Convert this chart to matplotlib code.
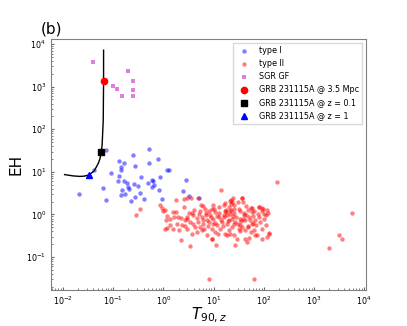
import matplotlib
matplotlib.use("Agg")
import matplotlib.pyplot as plt
import numpy as np

# type I (short) GRBs
t1_x = [0.071, 0.507, 0.246, 0.776, 0.131, 0.163, 0.521, 0.273, 0.144, 0.14, 1.16, 1.31,
        0.092, 0.131, 0.356, 0.863, 0.124, 0.165, 0.184, 0.261, 0.31, 0.497, 0.581, 0.608,
        0.655, 0.195, 0.202, 2.81, 0.061, 0.147, 0.581, 0.80, 0.34, 0.0209, 0.144, 0.173,
        0.27, 0.414, 0.224, 0.071, 0.92, 2.42, 3.27, 0.041, 5.0]
t1_y = [33.3, 35.1, 25.4, 19.7, 17.9, 15.8, 16.1, 13.7, 12.8, 11.0, 11.0, 11.0,
        9.6, 7.8, 7.55, 7.7, 6.08, 5.97, 5.57, 5.27, 4.73, 5.36, 6.41, 5.97,
        5.0, 4.49, 4.03, 6.41, 4.09, 3.81, 4.32, 3.67, 3.24, 3.0, 2.8, 3.07,
        2.55, 2.34, 2.06, 2.22, 2.34, 3.61, 2.75, 11.3, 2.42]

# type II (long) GRBs
t2_x = [1.75, 2.53, 0.85, 0.95, 1.06, 0.96, 1.80, 1.60, 1.19, 1.12, 1.98, 2.23, 2.9, 3.18,
        2.6, 3.66, 3.94, 5.5, 6.2, 6.7, 5.4, 4.6, 5.8, 6.9, 8.5, 9.1, 9.9, 3.38, 2.69, 2.31,
        1.83, 1.57, 1.35, 1.07, 1.16, 2.07, 2.9, 3.94, 4.95, 6.2, 7.3, 7.85, 9.1, 5.8, 4.6,
        3.66, 7.3, 9.1, 2.23, 3.38, 2.69, 4.25, 5.4, 6.5, 8.2, 9.9, 1.35, 1.52, 4.95, 2.9, 3.5,
        21.5, 23.3, 22.5, 30.2, 36.9, 38.5, 31.6, 25.2, 21.5, 17.1, 15.8, 12.6, 10.8, 10.0,
        9.7, 11.7, 13.6, 10.5, 9.3, 11.2, 17.1, 18.5, 21.5, 25.2, 29.3, 27.2, 23.3, 20.0,
        27.2, 34.1, 39.8, 43, 50, 58.5, 57, 79.4, 95, 99, 79.4, 68, 58.5, 49, 43, 36.9, 31.6,
        63, 73.5, 92.5, 108, 126, 117, 92.5, 68, 50, 43, 46, 34, 14.7, 18.5, 23.3, 15.8, 20,
        18.5, 49, 21.9, 24.7, 36.4, 80.5, 93.7, 55, 120, 124, 13.9, 181.6,
        11.5, 12.8, 14, 16, 17.5, 19, 21, 24, 26, 28, 30, 33, 35, 40, 45, 48, 52, 60, 65, 70,
        75, 85, 90, 100, 110, 115, 8, 7, 6, 4, 3, 5, 13, 16.5, 26, 44, 33, 20, 12, 55, 8.7,
        10.5, 15, 25, 38, 62, 18, 22,
        0.286, 0.34, 5700, 3180, 3650, 1946, 8.1, 63.1]
t2_y = [2.13, 2.34, 1.69, 1.41, 1.24, 1.18, 1.11, 0.86, 0.90, 0.75, 0.85, 0.84, 0.86, 1.07,
        1.49, 1.09, 0.95, 1.69, 1.57, 1.36, 1.18, 0.84, 0.86, 0.95, 0.98, 1.31, 1.63, 0.66,
        0.72, 0.57, 0.60, 0.46, 0.55, 0.46, 0.48, 0.42, 0.46, 0.60, 0.66, 0.60, 0.75, 0.53,
        0.46, 0.42, 0.38, 0.35, 0.32, 0.27, 0.244, 0.18, 0.52, 0.50, 0.50, 0.46, 0.66, 0.60,
        0.76, 1.11, 2.47, 2.42, 2.42,
        2.1, 1.95, 1.8, 1.95, 2.4, 1.95, 1.36, 1.33, 1.17, 1.22, 0.95, 0.87, 1.13, 1.36,
        0.79, 0.55, 0.46, 0.38, 0.27, 0.19, 0.35, 0.32, 0.35, 0.32, 0.27, 0.19, 0.79, 0.72,
        0.66, 0.79, 0.95, 0.72, 0.87, 1.13, 1.4, 1.5, 1.36, 1.04, 0.87, 0.72, 0.6, 0.53, 0.42,
        0.5, 0.46, 0.42, 0.33, 0.46, 0.57, 0.35, 0.3, 0.27, 0.32, 0.28, 0.27, 0.22, 0.55,
        0.66, 0.6, 0.5, 1.63, 1.5, 0.97, 0.5, 2.22, 2.47, 2.42, 1.49, 1.41, 1.41, 1.1, 0.36,
        3.81, 5.66,
        0.9, 1.05, 0.75, 0.85, 1.3, 0.7, 1.0, 0.9, 1.1, 0.85, 0.6, 1.2, 0.7, 1.1, 0.95, 1.25,
        0.75, 0.9, 1.2, 0.55, 1.0, 0.65, 1.2, 0.8, 0.95, 1.3, 1.2, 1.05, 0.75, 1.3, 0.8, 1.0,
        1.5, 1.9, 1.7, 1.6, 0.4, 0.42, 0.35, 0.38, 0.85, 0.62, 0.52, 0.6, 0.8, 0.62, 1.15, 1.3,
        0.98, 1.31, 1.07, 0.333, 0.258, 0.161, 0.0307, 0.0307]

# SGR giant flares
sgr_x = [0.039, 0.193, 0.246, 0.0995, 0.118, 0.147, 0.246, 0.246]
sgr_y = [3830, 2280, 1370, 1045, 875, 590, 840, 605]

# GRB 231115A track vs distance
track_x = [0.064, 0.064, 0.064, 0.0635, 0.063, 0.061, 0.060, 0.058, 0.054, 0.050,
           0.0415, 0.0326, 0.026, 0.0216, 0.016, 0.0107]
track_y = [7200, 3000, 1350, 500, 160, 70, 45, 30, 20, 15.6,
           10.5, 8.4, 7.9, 7.8, 8.0, 8.6]

grb_names = ['GRB 231115A @ 3.5 Mpc', 'GRB 231115A @ z = 0.1', 'GRB 231115A @ z = 1']
grb_x = [0.064, 0.058, 0.0326]
grb_y = [1350, 30, 8.4]

fig, ax = plt.subplots(figsize=(4.07, 3.26), dpi=100)

ax.scatter(t1_x, t1_y, s=10, c='b', alpha=0.5, lw=0, label='type I')
ax.scatter(t2_x, t2_y, s=10, c='r', alpha=0.5, lw=0, label='type II')
ax.scatter(sgr_x, sgr_y, s=10, c='m', alpha=0.5, lw=0, marker='s', label='SGR GF')
ax.plot(track_x, track_y, 'k-', lw=1.0)
ax.plot(grb_x[0], grb_y[0], 'ro', ms=4.5, ls='none', label=grb_names[0])
ax.plot(grb_x[1], grb_y[1], 'ks', ms=4.5, ls='none', label=grb_names[1])
ax.plot(grb_x[2], grb_y[2], 'b^', ms=4.5, ls='none', label=grb_names[2])

ax.set_xscale('log')
ax.set_yscale('log')
ax.set_xlim(5.7e-3, 1.1e4)
ax.set_ylim(0.0166, 1.31e4)

ax.set_xlabel('$T_{90,z}$', fontsize=11, labelpad=-1)
ax.set_ylabel('EH', fontsize=11, labelpad=2)
ax.text(-0.033, 1.01, '(b)', transform=ax.transAxes, fontsize=11, ha='left', va='bottom')

ax.tick_params(which='both', direction='in', labelsize=5.8, color='0.4')
ax.tick_params(which='major', length=2.5)
ax.tick_params(which='minor', length=1.5)
for sp in ax.spines.values():
    sp.set_color('0.5')

ax.legend(loc='upper right', fontsize=5.8, framealpha=1, edgecolor='0.85', fancybox=False)

fig.savefig('out.png', dpi=100)
